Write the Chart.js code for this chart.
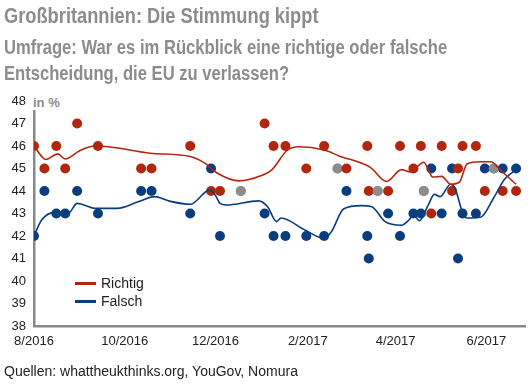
<!DOCTYPE html>
<html>
<head>
<meta charset="utf-8">
<script src="https://cdn.jsdelivr.net/npm/chart.js@4"></script>
<style>
  body { margin: 0; background: #fff; }
  #wrap { position: relative; width: 530px; height: 389px; overflow: hidden; font-family: "Liberation Sans", Arial, sans-serif; }
  #wrap canvas { position: absolute; left: 0; top: 0; }
  .t { position: absolute; left: 4px; white-space: nowrap; color: #8c8c8c; font-family: "Liberation Sans", Arial, sans-serif; font-weight: bold; transform: scaleX(0.83); transform-origin: 0 0; }
  .lg { position: absolute; left: 75px; font-size: 14px; color: #222; line-height: 14px; }
  .lg span { display: inline-block; width: 21px; height: 3px; vertical-align: middle; margin-right: 5px; position: relative; top: -1px; }
</style>
</head>
<body>
<div id="wrap">
  <canvas id="myChart" width="530" height="389"></canvas>
  <div class="t" style="top:5px;font-size:22px;line-height:22px">Großbritannien: Die Stimmung kippt</div>
  <div class="t" style="top:37px;font-size:20px;line-height:20px">Umfrage: War es im Rückblick eine richtige oder falsche</div>
  <div class="t" style="top:63px;font-size:20px;line-height:20px">Entscheidung, die EU zu verlassen?</div>
  <div style="position:absolute;left:33px;top:95px;height:15px;line-height:15px;padding-right:2px;background:#fff;color:#8c8c8c;font-weight:bold;font-size:13px">in %</div>
  <div class="lg" style="top:276px"><span style="background:#b3260e"></span>Richtig</div>
  <div class="lg" style="top:294px"><span style="background:#0a3d7e"></span>Falsch</div>
  <div style="position:absolute;left:4px;top:363px;font-size:14px;line-height:16px;color:#222">Quellen: whattheukthinks.org, YouGov, Nomura</div>
</div>
<script>
// poll results (in %)
var pollDates = ["2016-08-01", "2016-08-08", "2016-08-16", "2016-08-22", "2016-08-30", "2016-09-13",
  "2016-10-12", "2016-10-19", "2016-11-14", "2016-11-28", "2016-12-04", "2016-12-18",
  "2017-01-03", "2017-01-09", "2017-01-17", "2017-01-31", "2017-02-12", "2017-02-21",
  "2017-02-27", "2017-03-13", "2017-03-14", "2017-03-20", "2017-03-27", "2017-04-04",
  "2017-04-13", "2017-04-18", "2017-04-20", "2017-04-25", "2017-05-02", "2017-05-09",
  "2017-05-13", "2017-05-16", "2017-05-25", "2017-05-31", "2017-06-06", "2017-06-12", "2017-06-21"];
var richtig = [46, 45, 46, 45, 47, 46, 45, 45, 46, 44, 44, 44, 47, 46, 46, 45, 46, 45, 45, 46, 44,
  44, 44, 46, 45, 46, 44, 43, 46, 44, 45, 46, 46, 44, 45, 44, 44];
var falsch = [42, 44, 43, 43, 44, 43, 44, 44, 43, 45, 42, 44, 43, 42, 42, 42, 42, 45, 44, 42, 41,
  44, 43, 42, 43, 43, 44, 45, 43, 45, 41, 43, 43, 45, 45, 45, 45];

// trend lines
var richtigTrendDates = ["2016-08-01", "2016-08-09", "2016-08-17", "2016-08-22", "2016-09-01", "2016-09-11",
  "2016-09-24", "2016-10-18", "2016-11-14", "2016-11-24", "2016-12-02", "2016-12-17", "2016-12-30",
  "2017-01-08", "2017-01-18", "2017-01-26", "2017-02-12", "2017-02-22", "2017-03-15", "2017-03-26",
  "2017-04-05", "2017-04-11", "2017-04-20", "2017-04-26", "2017-05-02", "2017-05-08", "2017-05-14",
  "2017-05-19", "2017-05-28", "2017-06-04", "2017-06-11", "2017-06-21"];
var richtigTrend = [46.0, 45.4, 45.65, 45.42, 45.8, 46.0, 45.93, 45.68, 45.53, 45.23, 44.8, 44.45, 44.64,
  44.95, 45.8, 45.97, 45.82, 45.56, 45.05, 44.42, 44.95, 44.85, 45.28, 44.62, 44.65, 44.3, 44.4,
  45.2, 45.3, 45.3, 44.9, 44.3];
var falschTrendDates = ["2016-08-01", "2016-08-06", "2016-08-15", "2016-08-24", "2016-08-30", "2016-09-11",
  "2016-09-26", "2016-10-10", "2016-10-21", "2016-10-31", "2016-11-14", "2016-11-27", "2016-12-01",
  "2016-12-04", "2016-12-08", "2016-12-30", "2017-01-05", "2017-01-11", "2017-01-14", "2017-01-30",
  "2017-02-12", "2017-02-17", "2017-02-25", "2017-03-09", "2017-03-16", "2017-03-25", "2017-04-05",
  "2017-04-10", "2017-04-13", "2017-04-17", "2017-04-23", "2017-04-27", "2017-05-01", "2017-05-08",
  "2017-05-11", "2017-05-16", "2017-05-19", "2017-05-28", "2017-06-06", "2017-06-13", "2017-06-21"];
var falschTrend = [42.0, 42.7, 43.05, 43.0, 43.45, 43.23, 43.23, 43.52, 43.75, 43.55, 43.41, 44.04, 43.8,
  43.45, 43.38, 43.56, 43.3, 42.64, 42.8, 42.27, 41.9, 42.2, 43.2, 43.35, 43.3, 42.64, 42.48,
  42.71, 42.93, 42.68, 43.38, 43.85, 43.75, 44.3, 44.12, 43.05, 42.8, 42.83, 43.7, 44.5, 44.95];

var tickDates = ["2016-08-01", "2016-10-01", "2016-12-01", "2017-02-01", "2017-04-01", "2017-06-01"];
var tickLabels = ["8/2016", "10/2016", "12/2016", "2/2017", "4/2017", "6/2017"];

var RED = "#b3260e", BLUE = "#0a3d7e", GREY = "#8c8c8c";
var start = Date.parse("2016-08-01");

// days since 1 Aug 2016
function dayOf(s) {
  return (Date.parse(s) - start) / 864e5;
}
function points(dates, vals) {
  return dates.map(function (d, i) { return { x: dayOf(d), y: vals[i] }; });
}
// grey dot where both answers are equal
function dotColor(own) {
  return function (c) {
    var i = c.dataIndex;
    return richtig[i] === falsch[i] ? GREY : own;
  };
}

var ctx = document.getElementById("myChart").getContext("2d");
var myChart = new Chart(ctx, {
  type: "scatter",
  data: {
    datasets: [
      { data: points(richtigTrendDates, richtigTrend), showLine: true, borderColor: RED, borderWidth: 1.6,
        pointRadius: 0, cubicInterpolationMode: "monotone", order: 0 },
      { data: points(falschTrendDates, falschTrend), showLine: true, borderColor: BLUE, borderWidth: 1.6,
        pointRadius: 0, cubicInterpolationMode: "monotone", order: 0 },
      { data: points(pollDates, falsch), pointRadius: 5, pointBorderWidth: 0,
        pointBackgroundColor: dotColor(BLUE), order: 2 },
      { data: points(pollDates, richtig), pointRadius: 5, pointBorderWidth: 0,
        pointBackgroundColor: dotColor(RED), order: 1 },
    ],
  },
  options: {
    responsive: false,
    animation: false,
    layout: { padding: { top: 101, right: 4, bottom: 33, left: 0 } },
    plugins: { legend: { display: false }, tooltip: { enabled: false } },
    scales: {
      x: {
        type: "linear",
        min: 0,
        max: 330,
        afterFit: function (s) { s.height = 30; },
        afterBuildTicks: function (s) {
          s.ticks = tickDates.map(function (d) { return { value: dayOf(d) }; });
        },
        ticks: {
          autoSkip: false,
          maxRotation: 0,
          padding: 8,
          color: "#222",
          font: { family: "'Liberation Sans', Arial", size: 13 },
          callback: function (v, i) { return tickLabels[i]; },
        },
        grid: { display: false, drawTicks: false },
        border: { display: true, color: "#888", width: 2.5 },
      },
      y: {
        min: 38,
        max: 48,
        afterFit: function (s) { s.width = 34; },
        ticks: {
          stepSize: 1,
          padding: 8,
          color: "#222",
          font: { family: "'Liberation Sans', Arial", size: 13 },
        },
        grid: { display: false, drawTicks: false },
        border: { display: true, color: "#888", width: 2.5 },
      },
    },
  },
});
</script>
</body>
</html>
